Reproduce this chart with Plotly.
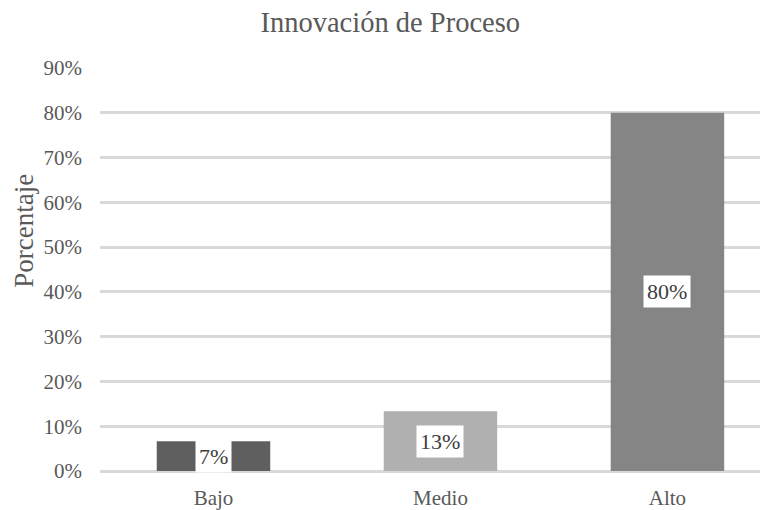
import plotly.graph_objects as go

categories = ["Bajo", "Medio", "Alto"]
values = [6.67, 13.33, 80.0]
labels = ["7%", "13%", "80%"]
bar_colors = ["#5f5f5f", "#b0b0b0", "#858585"]
tick_vals = [0, 10, 20, 30, 40, 50, 60, 70, 80, 90]
tick_text = [f"{v}%" for v in tick_vals]

FONT = "Liberation Serif"
GREY = "#595959"

fig = go.Figure()
fig.add_trace(go.Bar(
    x=categories, y=values, width=0.5,
    marker=dict(color=bar_colors, line=dict(width=0)),
    hoverinfo="skip",
))

for c, v, t in zip(categories, values, labels):
    fig.add_annotation(
        x=c, y=v / 2, xref="x", yref="y", text=t, showarrow=False,
        bgcolor="white", borderpad=3,
        font=dict(family=FONT, size=22, color="#404040"),
    )

fig.add_annotation(
    text="Porcentaje", textangle=-90, xref="paper", yref="paper",
    x=-0.114, y=0.596, showarrow=False, xanchor="center", yanchor="middle",
    font=dict(family=FONT, size=27, color=GREY),
)

# page body adds an 8px offset; figure is sized/placed to compensate
fig.update_layout(
    width=760, height=502,
    margin=dict(l=92, r=0, t=60, b=39),
    paper_bgcolor="white", plot_bgcolor="white",
    title=dict(text="Innovación de Proceso", x=0.503, xanchor="center",
               y=0.972, yanchor="middle",
               font=dict(family=FONT, size=28.5, color=GREY)),
    showlegend=False,
    xaxis=dict(range=[-0.5, 2.443], showgrid=False, showline=False, zeroline=False,
               tickfont=dict(family=FONT, size=21, color=GREY),
               ticks="", ticklabelstandoff=12, automargin=False),
    yaxis=dict(range=[0, 90], tickvals=tick_vals, ticktext=tick_text,
               showgrid=True, gridcolor="#d9d9d9", gridwidth=2.5,
               zeroline=True, zerolinecolor="#d9d9d9", zerolinewidth=2.5,
               showline=False, ticks="", ticklabelstandoff=17, automargin=False,
               tickfont=dict(family=FONT, size=21, color=GREY)),
)

fig.write_html("out.html")
